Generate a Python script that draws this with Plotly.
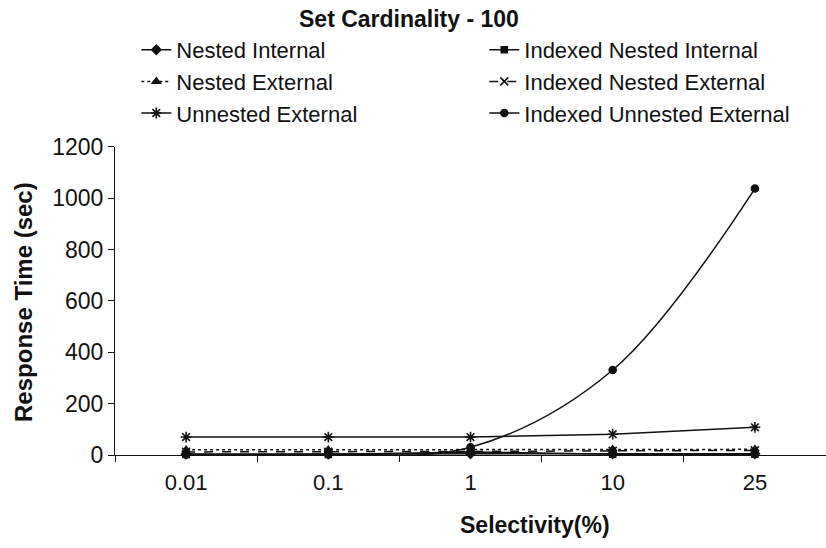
import plotly.graph_objects as go

categories = ["0.01", "0.1", "1", "10", "25"]
nested_internal = [4, 4, 5, 5, 5]
indexed_nested_internal = [2, 2, 12, 3, 3]
nested_external = [20, 20, 20, 22, 22]
indexed_nested_external = [12, 12, 14, 16, 18]
unnested_external = [70, 70, 70, 81, 108]
indexed_unnested_external = [2, 3, 30, 331, 1038]

FONT = "Liberation Sans, Arial, Helvetica, sans-serif"
C = "#111111"
W, H = 826, 548
L, R, T, B = 115, 0, 143, 93

series = [
    ("Nested Internal", nested_internal, "solid", "diamond", 7, False),
    ("Indexed Nested Internal", indexed_nested_internal, "solid", "square", 6, False),
    ("Nested External", nested_external, "dot", "triangle-up", 7, False),
    ("Indexed Nested External", indexed_nested_external, "dash", "x-thin-open", 8, False),
    ("Unnested External", unnested_external, "solid", "asterisk-open", 9, False),
    ("Indexed Unnested External", indexed_unnested_external, "solid", "circle", 7, True),
]

fig = go.Figure()
for name, vals, dash, sym, size, smooth in series:
    fig.add_trace(go.Scatter(
        x=categories, y=vals, name=name, mode="lines+markers",
        line=dict(color=C, width=1.5, dash=dash,
                  shape="spline" if smooth else "linear", smoothing=1.0),
        marker=dict(symbol=sym, size=size, color=C,
                    line=dict(color=C, width=1.6)),
        cliponaxis=False,
    ))

pw, ph = W - L - R, H - T - B


def to_paper(px, py):
    return (px - L) / pw, (H - B - py) / ph


tx, ty = to_paper(409, 13)
yx, yy = to_paper(24, 300)
xx, xy = to_paper(535, 526)

fig.update_layout(
    width=W, height=H,
    margin=dict(l=L, r=R, t=T, b=B),
    paper_bgcolor="white", plot_bgcolor="white",
    font=dict(family=FONT, color=C),
    showlegend=True,
    legend=dict(
        orientation="h", xref="container", yref="container",
        x=0.165, y=1 - 29 / H, xanchor="left", yanchor="top",
        entrywidth=303, entrywidthmode="pixels",
        font=dict(size=22, family=FONT, color=C),
        traceorder="normal", itemwidth=30, tracegroupgap=0,
        bgcolor="rgba(0,0,0,0)",
    ),
    xaxis=dict(
        type="category", range=[-0.5, 4.5], tickson="boundaries",
        ticks="outside", ticklen=6, tickcolor=C, tickwidth=1,
        showline=True, linecolor=C, linewidth=1, showgrid=False,
        zeroline=False, tickfont=dict(size=22, family=FONT, color=C),
        ticklabelstandoff=8,
    ),
    yaxis=dict(
        range=[0, 1200], tickvals=[0, 200, 400, 600, 800, 1000, 1200],
        ticks="outside", ticklen=6, tickcolor=C, tickwidth=1,
        showline=True, linecolor=C, linewidth=1, showgrid=False,
        zeroline=False, tickfont=dict(size=23, family=FONT, color=C),
    ),
    annotations=[
        dict(text="<b>Set Cardinality - 100</b>", xref="paper", yref="paper",
             x=tx, y=ty, xanchor="center", yanchor="middle",
             showarrow=False, font=dict(size=23, family=FONT, color=C)),
        dict(text="<b>Response Time (sec)</b>", xref="paper", yref="paper",
             x=yx, y=yy, xanchor="center", yanchor="middle",
             textangle=-90, showarrow=False,
             font=dict(size=24, family=FONT, color=C)),
        dict(text="<b>Selectivity(%)</b>", xref="paper", yref="paper",
             x=xx, y=xy, xanchor="center", yanchor="middle",
             showarrow=False, font=dict(size=23, family=FONT, color=C)),
    ],
)

fig.write_html("out.html")
